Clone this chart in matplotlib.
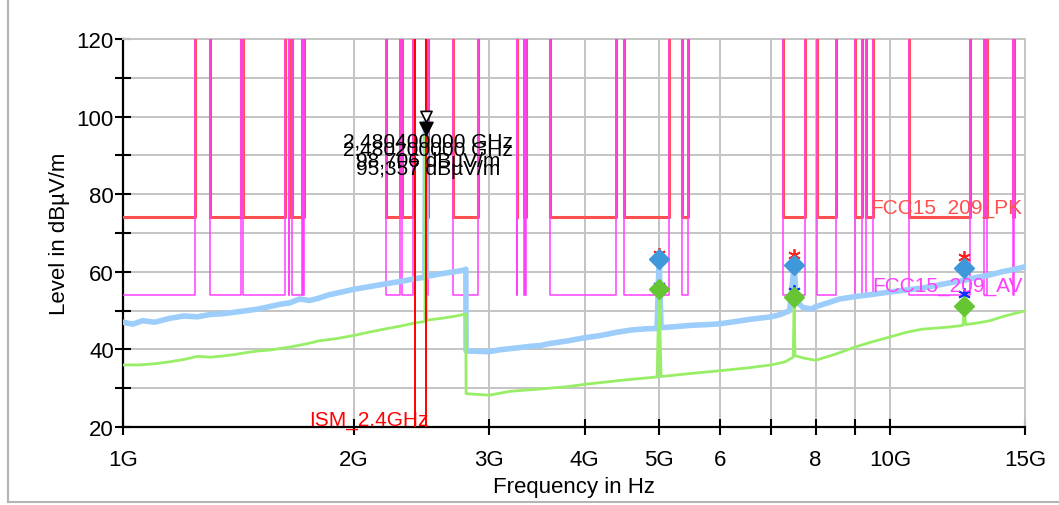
import matplotlib
matplotlib.use('Agg')
import matplotlib.pyplot as plt
from matplotlib.lines import Line2D
from matplotlib.path import Path
from matplotlib.markers import MarkerStyle
from matplotlib.ticker import FixedLocator, NullLocator

plt.rcParams['font.family'] = ['Liberation Sans', 'DejaVu Sans']

fontsize = 15
ticksize = 16

# restricted bands in GHz, FCC 15.209 limits apply inside them
band_start = [0.96, 1.30, 1.435, 1.6455, 1.66, 1.7188, 2.20, 2.31, 2.4835, 2.69,
              3.26, 3.332, 3.3458, 3.60, 4.50, 5.35, 7.25, 8.025, 9.00, 9.30,
              10.6, 13.25, 14.47]
band_stop = [1.24, 1.427, 1.6265, 1.6465, 1.71, 1.7222, 2.30, 2.39, 2.50, 2.90,
             3.267, 3.339, 3.358, 4.40, 5.15, 5.46, 7.75, 8.50, 9.20, 9.50,
             12.7, 13.40, 14.50]
pk_limit = 74
av_limit = 54

# peak trace (GHz, dBuV/m)
pk_freq = [1.00, 1.03, 1.06, 1.10, 1.15, 1.20, 1.25, 1.30, 1.35, 1.40, 1.45, 1.50,
           1.55, 1.60, 1.65, 1.70, 1.75, 1.80, 1.85, 1.90, 1.95, 2.00, 2.10, 2.20,
           2.30, 2.40, 2.475, 2.4804, 2.486, 2.55, 2.60, 2.70, 2.78, 2.799, 2.801,
           2.90, 3.00, 3.10, 3.20, 3.30, 3.40, 3.50, 3.60, 3.80, 4.00, 4.20, 4.40,
           4.60, 4.80, 4.97, 5.00, 5.03, 5.20, 5.50, 5.80, 6.00, 6.30, 6.60, 7.00,
           7.20, 7.40, 7.50, 7.55, 7.70, 7.90, 8.00, 8.30, 8.60, 9.00, 9.50, 10.0,
           10.5, 11.0, 11.5, 12.0, 12.5, 13.0, 13.5, 14.0, 14.5, 15.0]
pk_level = [47.0, 46.5, 47.4, 47.0, 48.0, 48.6, 48.4, 49.0, 49.2, 49.6, 50.0, 50.4,
            51.0, 51.6, 52.0, 53.0, 52.6, 53.2, 54.0, 54.5, 55.0, 55.5, 56.2, 56.9,
            57.5, 58.2, 58.6, 98.7, 58.8, 59.2, 59.5, 60.0, 60.4, 60.7, 39.6,
            39.5, 39.4, 39.9, 40.2, 40.5, 40.8, 41.0, 41.5, 42.2, 43.0, 43.6, 44.4,
            45.0, 45.3, 45.4, 63.3, 45.6, 45.8, 46.2, 46.4, 46.6, 47.2, 47.8, 48.4,
            49.0, 50.0, 61.8, 52.5, 50.8, 50.4, 51.0, 52.0, 53.0, 53.6, 54.2, 54.8,
            55.3, 55.8, 56.5, 57.2, 57.8, 58.6, 59.2, 60.0, 60.6, 61.3]

# average trace (GHz, dBuV/m)
av_freq = [1.00, 1.05, 1.10, 1.15, 1.20, 1.25, 1.30, 1.35, 1.40, 1.45, 1.50, 1.55,
           1.60, 1.65, 1.70, 1.75, 1.80, 1.85, 1.90, 2.00, 2.10, 2.20, 2.30, 2.40,
           2.475, 2.4802, 2.486, 2.55, 2.60, 2.70, 2.799, 2.801, 2.90, 3.00, 3.20,
           3.50, 3.80, 4.00, 4.50, 4.97, 5.00, 5.03, 5.50, 6.00, 6.50, 7.00, 7.30,
           7.48, 7.50, 7.52, 7.70, 8.00, 8.50, 9.00, 9.50, 10.0, 10.5, 11.0, 12.0,
           12.45, 12.5, 12.55, 13.0, 13.5, 14.0, 14.5, 15.0]
av_level = [36.0, 36.0, 36.3, 36.8, 37.4, 38.2, 38.0, 38.3, 38.7, 39.2, 39.6, 39.8,
            40.2, 40.6, 41.1, 41.6, 42.2, 42.5, 42.8, 43.6, 44.5, 45.3, 46.0, 46.8,
            47.2, 95.4, 47.5, 47.8, 48.0, 48.5, 49.1, 28.6, 28.4, 28.2, 29.2,
            29.8, 30.4, 31.0, 32.1, 32.9, 55.6, 33.0, 33.8, 34.5, 35.2, 36.0, 36.8,
            38.0, 53.5, 38.4, 37.8, 37.2, 38.8, 40.6, 42.0, 43.2, 44.4, 45.2, 45.8,
            46.2, 51.2, 46.4, 46.8, 47.4, 48.4, 49.2, 49.9]

# final measurement points
final_freq = [5.0, 7.5, 12.5]
final_pk = [63.3, 61.8, 61.0]
final_av = [55.6, 53.5, 51.2]
star_pk = [64.6, 64.4, 63.8]
star_av = [56.4, 55.0, 54.3]

# markers on the carrier
mk_freq = [2.4804, 2.4802]
mk_level = [98.706, 95.357]
mk_text = ['2,480400000 GHz\n98,706 dBµV/m', '2,480200000 GHz\n95,357 dBµV/m']

ism_freq = [2.4, 2.4835]

xticks = [1, 2, 3, 4, 5, 6, 7, 8, 9, 10, 15]
xticklabels = ['1G', '2G', '3G', '4G', '5G', '6', '', '8', '', '10G', '15G']

fig = plt.figure(figsize=(10.59, 5.06), dpi=100)
ax = fig.add_axes([123/1059, 1 - 428/506, 902/1059, 388/506])
ax.set_xscale('log')
ax.set_xlim(1, 15)
ax.set_ylim(20, 120)

# limit lines as step paths through the band edges
top = 200
lim_x, pk_y, av_y = [], [], []
for s, e in zip(band_start, band_stop):
    lim_x += [s, s, e, e]
    pk_y += [top, pk_limit, pk_limit, top]
    av_y += [top, av_limit, av_limit, top]
ax.plot(lim_x, pk_y, color='#ff5050', lw=2.2, zorder=3)
ax.plot(lim_x, av_y, color='#ff40ff', lw=1.1, zorder=3.1)

# traces
ax.plot(pk_freq, pk_level, color='#9dcdfa', lw=4, zorder=4)
ax.plot(av_freq, av_level, color='#98ee66', lw=2, zorder=4.1)

# ISM band
for f in ism_freq:
    ax.axvline(f, color='#ff0000', lw=1.4, zorder=5)
ax.text(2.50, 20.6, 'ISM_2.4GHz', color='#ff0000', fontsize=fontsize, ha='right',
        va='baseline', zorder=6)

# final result markers
ax.plot(final_freq, star_pk, ls='none', marker=(6, 2, 0), ms=9, mec='#ff2020', mew=1.3, zorder=6)
ax.plot(final_freq, star_av, ls='none', marker=(6, 2, 0), ms=9, mec='#1030ff', mew=1.3, zorder=6)
ax.plot(final_freq, final_pk, ls='none', marker='D', ms=10, mfc='#3f98da', mec='#3f98da', zorder=7)
ax.plot(final_freq, final_av, ls='none', marker='D', ms=10, mfc='#66c532', mec='#66c532', zorder=7)

# carrier markers, tip of the triangle on the level
tri = MarkerStyle(Path([(-0.5, 1.0), (0.5, 1.0), (0.0, 0.0), (-0.5, 1.0)],
                       [Path.MOVETO, Path.LINETO, Path.LINETO, Path.CLOSEPOLY]))
ax.plot(mk_freq[0], mk_level[0], ls='none', marker=tri, ms=16, mfc='white', mec='black', mew=1.2, zorder=8)
ax.plot(mk_freq[1], mk_level[1], ls='none', marker=tri, ms=19, mfc='black', mec='black', zorder=8)
ax.text(2.50, 96.1, mk_text[0], ha='center', va='top', fontsize=fontsize, linespacing=1.0, zorder=9)
ax.text(2.50, 94.0, mk_text[1], ha='center', va='top', fontsize=fontsize, linespacing=1.0, zorder=9)

# limit line names
trans = ax.get_yaxis_transform()
ax.text(0.997, 75.2, 'FCC15_209_PK', transform=trans, color='#ff5050', fontsize=fontsize,
        ha='right', va='baseline', zorder=9)
ax.text(0.997, 55.1, 'FCC15_209_AV', transform=trans, color='#ff40ff', fontsize=fontsize,
        ha='right', va='baseline', zorder=9)

# axes styling
ax.xaxis.set_major_locator(FixedLocator(xticks))
ax.xaxis.set_minor_locator(NullLocator())
ax.set_xticklabels(xticklabels)
ax.set_yticks(range(20, 121, 20))
ax.set_yticks(range(30, 120, 20), minor=True)
ax.grid(True, which='major', color='#c4c4c4', lw=1.4, zorder=0)
ax.yaxis.grid(True, which='minor', color='#c4c4c4', lw=1.4, zorder=0)
ax.set_axisbelow(True)
ax.tick_params(which='both', direction='inout', length=11, width=1.5, labelsize=ticksize)
ax.tick_params(axis='y', pad=1)
ax.tick_params(axis='x', pad=10)
for side in ['top', 'right']:
    ax.spines[side].set_color('#c4c4c4')
    ax.spines[side].set_linewidth(1.4)
for side in ['left', 'bottom']:
    ax.spines[side].set_linewidth(1.6)
ax.set_xlabel('Frequency in Hz', fontsize=16, labelpad=5)
ax.set_ylabel('Level in dBµV/m', fontsize=16, labelpad=5)

# thin frame round the picture
fig.add_artist(Line2D([8/1059, 8/1059], [3/506, 1.0], color='#b4b4b4', lw=1.5))
fig.add_artist(Line2D([8/1059, 1.0], [3/506, 3/506], color='#b4b4b4', lw=1.5))

fig.savefig('out.png', dpi=100)
